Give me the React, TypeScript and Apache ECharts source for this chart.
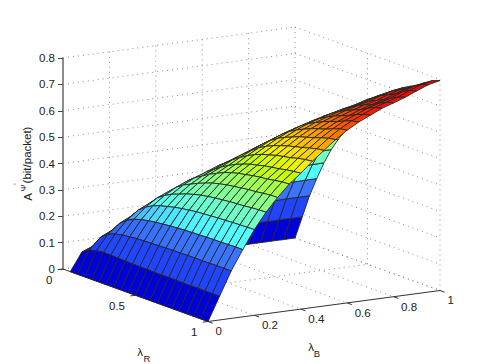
import React, { useEffect, useRef } from "react";
import * as echarts from "echarts";

const rTicks = [0, 0.5, 1];
const bTicks = [0, 0.2, 0.4, 0.6, 0.8, 1];
const zTicks = [0, 0.1, 0.2, 0.3, 0.4, 0.5, 0.6, 0.7, 0.8];
const gridCount = 20; // cells per side, step 0.05

// Surface heights; symmetric in lambda_R / lambda_B.
// Row n starts on the diagonal at index n+1 (index = lambda / 0.05). Index 0 is 0.
const surfaceRows: number[][] = [
  [.068, .086, .093, .097, .096, .095, .094, .093, .092, .092, .091, .091, .091, .091, .09, .09, .09, .09, .09, .09],
  [.129, .15, .161, .167, .17, .173, .174, .175, .176, .177, .178, .178, .179, .179, .179, .179, .18, .18, .18],
  [.185, .207, .221, .229, .235, .239, .242, .245, .247, .249, .25, .251, .252, .253, .253, .254, .255, .255],
  [.24, .261, .276, .286, .293, .3, .305, .309, .313, .315, .317, .319, .32, .322, .323, .324, .325],
  [.29, .309, .324, .334, .345, .353, .36, .365, .369, .372, .375, .377, .379, .382, .384, .385],
  [.334, .353, .366, .379, .39, .4, .407, .413, .417, .421, .425, .427, .431, .434, .435],
  [.375, .391, .408, .421, .434, .443, .451, .456, .462, .466, .469, .474, .478, .48],
  [.41, .429, .445, .459, .47, .48, .486, .493, .498, .502, .508, .512, .515],
  [.451, .469, .486, .5, .511, .519, .527, .533, .538, .546, .551, .555],
  [.49, .51, .526, .538, .548, .557, .564, .571, .579, .586, .59],
  [.532, .55, .564, .575, .586, .594, .602, .612, .62, .625],
  [.57, .586, .599, .611, .62, .629, .64, .65, .655],
  [.604, .618, .631, .642, .651, .664, .674, .68],
  [.633, .647, .658, .668, .682, .693, .7],
  [.662, .674, .685, .7, .713, .72],
  [.687, .698, .714, .727, .735],
  [.711, .727, .741, .75],
  [.745, .76, .769],
  [.776, .786],
  [.796],
];

const colorStops = [0, 0.09, 0.18, 0.255, 0.325, 0.385, 0.435, 0.48, 0.515, 0.555, 0.59, 0.625, 0.655, 0.7, 0.8];
const colorValues = [
  "#0000d8", "#2044ff", "#3a74ff", "#50ffff", "#70ffc4", "#8cff84", "#a8ff44", "#ccff00",
  "#f4f000", "#ffcc00", "#ffa000", "#ff7000", "#ff4000", "#ff1000", "#e80000",
];

const rVec = [145, 52.5];
const bDrop = -31;

const height = (i: number, j: number) => {
  if (i === 0 || j === 0) return 0;
  const a = Math.min(i, j);
  const c = Math.max(i, j);
  return surfaceRows[a - 1][c - a];
};

const hex = (s: string) => [1, 3, 5].map((k) => parseInt(s.slice(k, k + 2), 16));
const colorOf = (z: number) => {
  let k = 0;
  while (k < colorStops.length - 2 && z > colorStops[k + 1]) k++;
  const t = Math.min(1, Math.max(0, (z - colorStops[k]) / (colorStops[k + 1] - colorStops[k])));
  const a = hex(colorValues[k]);
  const b = hex(colorValues[k + 1]);
  return `rgb(${a.map((v, n) => Math.round(v + (b[n] - v) * t)).join(",")})`;
};

const project = (api: any, r: number, b: number, z: number) => {
  const [x, y] = api.coord([b, z]);
  return [x + rVec[0] * r, y + rVec[1] * r + bDrop * b];
};

const zTop = zTicks[zTicks.length - 1];
const gridLines: number[][] = [
  ...bTicks.slice(1).map((b) => [0, b, 0, 1, b, 0]),
  ...rTicks.slice(0, -1).map((r) => [r, 0, 0, r, 1, 0]),
  ...zTicks.flatMap((z) => [[0, 0, z, 0, 1, z], [0, 1, z, 1, 1, z]]),
  ...bTicks.slice(1).map((b) => [0, b, 0, 0, b, zTop]),
  ...rTicks.slice(1).map((r) => [r, 1, 0, r, 1, zTop]),
];
const axisLines: number[][] = [
  [0, 0, 0, 1, 0, 0],
  [1, 0, 0, 1, 1, 0],
  ...rTicks.map((r) => [r, 0, 0, r, -0.022, 0]),
  ...bTicks.map((b) => [1, b, 0, 1.032, b, 0]),
];
const cells: number[][] = [];
for (let i = 0; i < gridCount; i++) {
  for (let j = gridCount - 1; j >= 0; j--) {
    if (i === 0 && j === 0) continue;
    cells.push([i, j]);
  }
}

const FONT = "'Liberation Sans', Arial, sans-serif";
const INK = "#222222";
const TICK_FONT = `11.5px ${FONT}`;

export default function App() {
  const ref = useRef<HTMLDivElement>(null);
  useEffect(() => {
    const chart = echarts.init(ref.current!, null, { renderer: "svg" });
    const lineItem = (stroke: string, dash: any) => (_: any, api: any) => {
      const p = project(api, api.value(0), api.value(1), api.value(2));
      const q = project(api, api.value(3), api.value(4), api.value(5));
      return {
        type: "line",
        shape: { x1: p[0], y1: p[1], x2: q[0], y2: q[1] },
        style: { stroke, lineWidth: 1, lineDash: dash, fill: "none" },
      };
    };
    chart.setOption({
      animation: false,
      backgroundColor: "#ffffff",
      grid: { left: 63, top: 58, width: 232, height: 211, show: false },
      xAxis: { type: "value", min: 0, max: 1, show: false },
      yAxis: {
        type: "value",
        min: 0,
        max: zTop,
        interval: 0.1,
        axisLine: { show: true, lineStyle: { color: "#666666", width: 1.5 } },
        axisTick: { show: true, length: 5, lineStyle: { color: "#444444", width: 1 } },
        axisLabel: { fontFamily: FONT, fontSize: 11.5, color: INK, margin: 8, padding: [0, 0, 4, 0] },
        splitLine: { show: false },
      },
      series: [
        {
          type: "custom",
          coordinateSystem: "cartesian2d",
          silent: true,
          data: gridLines,
          renderItem: lineItem("#8c8c8c", [1, 4]),
        },
        {
          type: "custom",
          coordinateSystem: "cartesian2d",
          silent: true,
          data: axisLines,
          renderItem: lineItem("#333333", "solid"),
        },
        {
          type: "custom",
          coordinateSystem: "cartesian2d",
          silent: true,
          data: cells,
          renderItem: (_: any, api: any) => {
            const i = api.value(0);
            const j = api.value(1);
            const v = (a: number, b: number) => project(api, a / gridCount, b / gridCount, height(a, b));
            return {
              type: "polygon",
              shape: { points: [v(i, j), v(i + 1, j), v(i + 1, j + 1), v(i, j + 1)] },
              style: { fill: colorOf(height(i, j)), stroke: "#262626", lineWidth: 0.9 },
            };
          },
        },
        {
          type: "custom",
          coordinateSystem: "cartesian2d",
          silent: true,
          data: rTicks.map((r) => [r]),
          renderItem: (_: any, api: any) => {
            const r = api.value(0);
            const p = project(api, r, 0, 0);
            return {
              type: "text",
              x: p[0] - 10.5,
              y: p[1] + 10.5,
              style: { text: String(r), font: TICK_FONT, fill: INK, textAlign: "right", textVerticalAlign: "middle" },
            };
          },
        },
        {
          type: "custom",
          coordinateSystem: "cartesian2d",
          silent: true,
          data: bTicks.map((b) => [b]),
          renderItem: (_: any, api: any) => {
            const b = api.value(0);
            const p = project(api, 1, b, 0);
            return {
              type: "text",
              x: p[0] + 7.5,
              y: p[1] + 9.8,
              style: { text: String(b), font: TICK_FONT, fill: INK, textAlign: "left", textVerticalAlign: "middle" },
            };
          },
        },
      ],
      graphic: [
        { type: "text", x: 140, y: 352, style: { text: "λ", font: TICK_FONT, fill: INK, textAlign: "center", textVerticalAlign: "middle" } },
        { type: "text", x: 147, y: 358, style: { text: "R", font: `9.5px ${FONT}`, fill: INK, textAlign: "center", textVerticalAlign: "middle" } },
        { type: "text", x: 311, y: 347, style: { text: "λ", font: TICK_FONT, fill: INK, textAlign: "center", textVerticalAlign: "middle" } },
        { type: "text", x: 317, y: 353, style: { text: "B", font: `9.5px ${FONT}`, fill: INK, textAlign: "center", textVerticalAlign: "middle" } },
        { type: "text", x: 28, y: 197, rotation: Math.PI / 2, style: { text: "A", font: TICK_FONT, fill: INK, textAlign: "center", textVerticalAlign: "middle" } },
        { type: "text", x: 23, y: 188, rotation: Math.PI / 2, style: { text: "Ψ", font: `8px ${FONT}`, fill: INK, textAlign: "center", textVerticalAlign: "middle" } },
        { type: "text", x: 16, y: 184, rotation: Math.PI / 2, style: { text: "'", font: `7px ${FONT}`, fill: INK, textAlign: "center", textVerticalAlign: "middle" } },
        { type: "text", x: 27, y: 155, rotation: Math.PI / 2, style: { text: "(bit/packet)", font: TICK_FONT, fill: INK, textAlign: "center", textVerticalAlign: "middle" } },
      ],
    });
    return () => chart.dispose();
  }, []);
  return <div ref={ref} style={{ position: "fixed", left: 0, top: 0, width: 485, height: 364, background: "#fff" }} />;
}
